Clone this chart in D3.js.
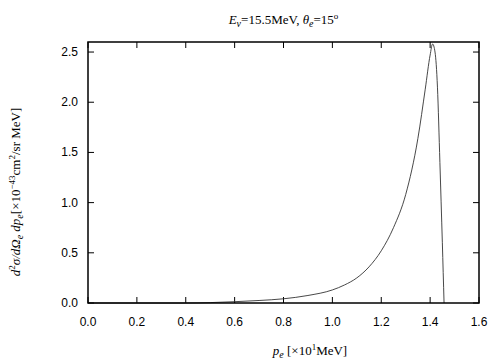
<!DOCTYPE html>
<html>
<head>
<meta charset="utf-8">
<script src="https://cdn.jsdelivr.net/npm/d3@7"></script>
<style>
  body { margin: 0; background: #fff; }
  svg text { fill: #000; }
</style>
</head>
<body>
<div id="chart"></div>
<script>
// momentum p_e [x10 MeV] and cross section [x10^-43 cm^2/sr MeV]
const pe = [0.0, 0.4, 0.5, 0.6, 0.7, 0.8, 0.9, 1.0, 1.05, 1.1, 1.15, 1.2, 1.25, 1.3, 1.35, 1.38, 1.4, 1.41, 1.42, 1.43, 1.44, 1.45, 1.457];
const xsec = [0.0, 0.0, 0.004, 0.013, 0.025, 0.042, 0.075, 0.13, 0.18, 0.25, 0.36, 0.52, 0.75, 1.08, 1.64, 2.13, 2.47, 2.58, 2.5, 2.15, 1.4, 0.6, 0.0];
const xTicks = [0.0, 0.2, 0.4, 0.6, 0.8, 1.0, 1.2, 1.4, 1.6];
const yTicks = [0.0, 0.5, 1.0, 1.5, 2.0, 2.5];

const width = 504, height = 360;
const m = { left: 88, right: 25, top: 42, bottom: 57 };

const svg = d3.select('#chart').append('svg')
  .attr('width', width).attr('height', height);

const x = d3.scaleLinear().domain([0, 1.6]).range([m.left, width - m.right]);
const y = d3.scaleLinear().domain([0, 2.6]).range([height - m.bottom, m.top]);

const tickFont = '"Liberation Sans", Arial, sans-serif';
const serif = '"Liberation Serif", "Times New Roman", serif';

// ticks (inward, mirrored on top/right)
const tl = 6;
const gx = svg.append('g');
xTicks.forEach(t => {
  gx.append('line').attr('x1', x(t)).attr('x2', x(t))
    .attr('y1', y(0)).attr('y2', y(0) - tl).attr('stroke', '#000');
  gx.append('line').attr('x1', x(t)).attr('x2', x(t))
    .attr('y1', m.top).attr('y2', m.top + tl).attr('stroke', '#000');
  gx.append('text').attr('x', x(t)).attr('y', y(0) + 23)
    .attr('text-anchor', 'middle')
    .style('font-family', tickFont).style('font-size', '12px')
    .text(t.toFixed(1));
});
const gy = svg.append('g');
yTicks.forEach(t => {
  gy.append('line').attr('x1', m.left).attr('x2', m.left + tl)
    .attr('y1', y(t)).attr('y2', y(t)).attr('stroke', '#000');
  gy.append('line').attr('x1', width - m.right).attr('x2', width - m.right - tl)
    .attr('y1', y(t)).attr('y2', y(t)).attr('stroke', '#000');
  gy.append('text').attr('x', m.left - 10).attr('y', y(t) + 4)
    .attr('text-anchor', 'end')
    .style('font-family', tickFont).style('font-size', '12px')
    .text(t.toFixed(1));
});

// curve
const line = d3.line().x((d, i) => x(pe[i])).y(d => y(d)).curve(d3.curveMonotoneX);
svg.append('path').datum(xsec)
  .attr('d', line)
  .attr('fill', 'none')
  .attr('stroke', '#333')
  .attr('stroke-width', 0.9);

// frame
svg.append('rect')
  .attr('x', m.left).attr('y', m.top)
  .attr('width', width - m.left - m.right)
  .attr('height', height - m.top - m.bottom)
  .attr('fill', 'none').attr('stroke', '#000').attr('stroke-width', 1.5);

// title
const title = svg.append('text')
  .attr('x', (m.left + width - m.right) / 2).attr('y', 24)
  .attr('text-anchor', 'middle')
  .style('font-family', serif).style('font-size', '13px');
title.append('tspan').style('font-style', 'italic').text('E');
title.append('tspan').style('font-style', 'italic').style('font-size', '10px').attr('dy', 3).text('ν');
title.append('tspan').attr('dy', -3).text('=15.5MeV,  ');
title.append('tspan').style('font-style', 'italic').text('θ');
title.append('tspan').style('font-style', 'italic').style('font-size', '10px').attr('dy', 3).text('e');
title.append('tspan').attr('dy', -3).text('=15');
title.append('tspan').style('font-size', '9px').attr('dy', -5).text('o');

// x label
const xl = svg.append('text')
  .attr('x', 310).attr('y', 355)
  .attr('text-anchor', 'middle')
  .style('font-family', serif).style('font-size', '13px');
xl.append('tspan').style('font-style', 'italic').text('p');
xl.append('tspan').style('font-style', 'italic').style('font-size', '10px').attr('dy', 3).text('e');
xl.append('tspan').attr('dy', -3).text(' [×10');
xl.append('tspan').style('font-size', '9px').attr('dy', -5).text('1');
xl.append('tspan').attr('dy', 5).text('MeV]');

// y label
const yl = svg.append('text')
  .attr('transform', 'translate(20,192) rotate(-90)')
  .attr('text-anchor', 'middle')
  .style('font-family', serif).style('font-size', '13px');
yl.append('tspan').style('font-style', 'italic').text('d');
yl.append('tspan').style('font-size', '9px').attr('dy', -5).text('2');
yl.append('tspan').style('font-style', 'italic').attr('dy', 5).text('σ/dΩ');
yl.append('tspan').style('font-style', 'italic').style('font-size', '10px').attr('dy', 3).text('e');
yl.append('tspan').style('font-style', 'italic').attr('dy', -3).text(' dp');
yl.append('tspan').style('font-style', 'italic').style('font-size', '10px').attr('dy', 3).text('e');
yl.append('tspan').attr('dy', -3).text('[×10');
yl.append('tspan').style('font-size', '9px').attr('dy', -5).text('−43');
yl.append('tspan').attr('dy', 5).text('cm');
yl.append('tspan').style('font-size', '9px').attr('dy', -5).text('2');
yl.append('tspan').attr('dy', 5).text('/sr MeV]');
</script>
</body>
</html>
